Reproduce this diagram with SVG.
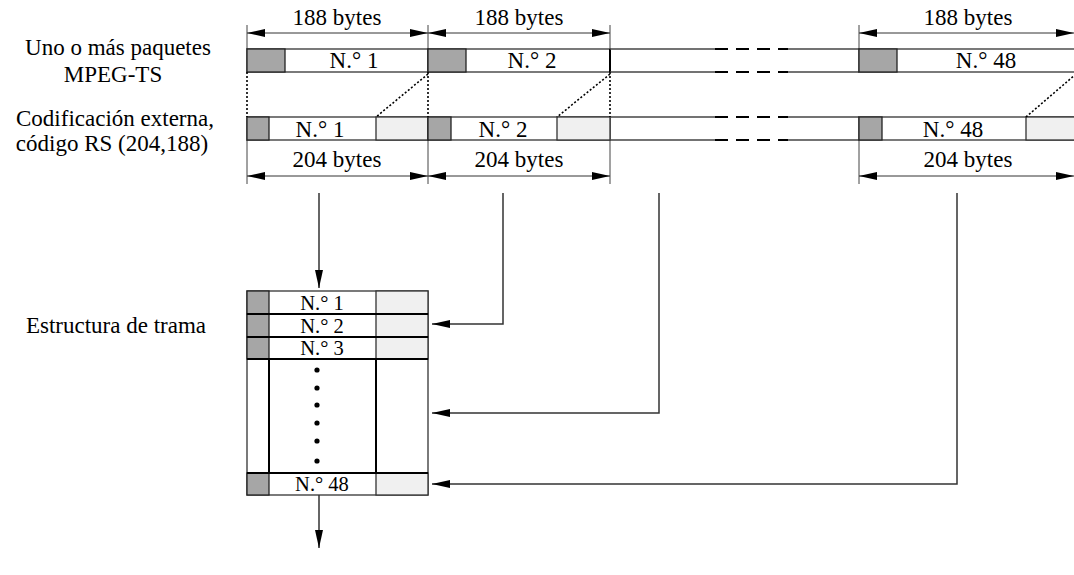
<svg xmlns="http://www.w3.org/2000/svg" width="1074" height="575" viewBox="0 0 1074 575">
<style>
text{font-family:"Liberation Serif","Times New Roman",serif;font-size:23px;fill:#000}
.m{text-anchor:middle}
.f{font-size:20.5px}
.w{fill:#fff;stroke:#333;stroke-width:1.3}
.g{fill:#a6a6a6;stroke:#222;stroke-width:1.3}
.l{fill:#f0f0f0;stroke:#333;stroke-width:1.3}
.ln{stroke:#444;stroke-width:1.3;fill:none}
.ds{stroke:#000;stroke-width:2;stroke-dasharray:13,8;fill:none}
.dot{stroke:#000;stroke-width:1.6;stroke-dasharray:2,2;fill:none}
.tk{stroke:#444;stroke-width:1}
.dim{stroke:#333;stroke-width:1;fill:none;marker-start:url(#as);marker-end:url(#ae)}
.c{stroke:#333;stroke-width:1.5;fill:none;marker-end:url(#ae)}
.fr{stroke:#000;stroke-width:2}
</style>
<defs>
<marker id="ae" viewBox="0 0 18 8" refX="18" refY="4" markerWidth="18" markerHeight="8" markerUnits="userSpaceOnUse" orient="auto"><path d="M0,0 L18,4 L0,8 Z" fill="#000"/></marker>
<marker id="as" viewBox="0 0 18 8" refX="0" refY="4" markerWidth="18" markerHeight="8" markerUnits="userSpaceOnUse" orient="auto"><path d="M18,0 L0,4 L18,8 Z" fill="#000"/></marker>
</defs>

<g id="labels">
<text class="m" x="118" y="55">Uno o más paquetes</text>
<text class="m" x="113" y="82">MPEG-TS</text>
<text class="m" x="115" y="126">Codificación externa,</text>
<text class="m" x="112" y="151">código RS (204,188)</text>
<text class="m" x="116" y="333">Estructura de trama</text>
</g>

<g id="dimensions">
<line class="tk" x1="247" y1="25" x2="247" y2="49"/>
<line class="tk" x1="428" y1="25" x2="428" y2="49"/>
<line class="tk" x1="610" y1="25" x2="610" y2="49"/>
<line class="tk" x1="859" y1="25" x2="859" y2="49"/>
<line class="tk" x1="247" y1="140" x2="247" y2="184"/>
<line class="tk" x1="428" y1="140" x2="428" y2="184"/>
<line class="tk" x1="610" y1="140" x2="610" y2="184"/>
<line class="tk" x1="859" y1="140" x2="859" y2="184"/>
<line class="dim" x1="247" y1="33" x2="428" y2="33"/>
<line class="dim" x1="428" y1="33" x2="610" y2="33"/>
<line class="dim" x1="859" y1="33" x2="1074" y2="33"/>
<line class="dim" x1="247" y1="176" x2="428" y2="176"/>
<line class="dim" x1="428" y1="176" x2="610" y2="176"/>
<line class="dim" x1="859" y1="176" x2="1074" y2="176"/>
<text class="m" x="337" y="25">188 bytes</text>
<text class="m" x="519" y="25">188 bytes</text>
<text class="m" x="968" y="25">188 bytes</text>
<text class="m" x="337" y="167">204 bytes</text>
<text class="m" x="519" y="167">204 bytes</text>
<text class="m" x="968" y="167">204 bytes</text>
</g>

<g id="ts-packets">
<rect class="w" x="247" y="49" width="181" height="23"/>
<rect class="g" x="247" y="49" width="38" height="23"/>
<text class="m" x="354" y="68">N.° 1</text>
<rect class="w" x="428" y="49" width="182" height="23"/>
<rect class="g" x="428" y="49" width="38" height="23"/>
<line x1="610" y1="49" x2="610" y2="72" stroke="#000" stroke-width="2"/>
<text class="m" x="532" y="68">N.° 2</text>
<line class="ln" x1="610" y1="49" x2="715" y2="49"/>
<line class="ln" x1="788" y1="49" x2="859" y2="49"/>
<line class="ln" x1="610" y1="72" x2="715" y2="72"/>
<line class="ln" x1="788" y1="72" x2="859" y2="72"/>
<line class="ds" x1="715" y1="49" x2="788" y2="49"/>
<line class="ds" x1="715" y1="72" x2="788" y2="72"/>
<rect class="w" x="859" y="49" width="220" height="23"/>
<rect class="g" x="859" y="49" width="38" height="23"/>
<text class="m" x="986" y="68">N.° 48</text>
</g>

<g id="rs-packets">
<rect class="w" x="247" y="117" width="181" height="23"/>
<rect class="g" x="247" y="117" width="22" height="23"/>
<rect class="l" x="376" y="117" width="52" height="23"/>
<text class="m" x="320" y="137">N.° 1</text>
<rect class="w" x="428" y="117" width="182" height="23"/>
<rect class="g" x="428" y="117" width="23" height="23"/>
<rect class="l" x="557" y="117" width="53" height="23"/>
<text class="m" x="503" y="137">N.° 2</text>
<line class="ln" x1="610" y1="117" x2="715" y2="117"/>
<line class="ln" x1="788" y1="117" x2="859" y2="117"/>
<line class="ln" x1="610" y1="140" x2="715" y2="140"/>
<line class="ln" x1="788" y1="140" x2="859" y2="140"/>
<line class="ds" x1="715" y1="117" x2="788" y2="117"/>
<line class="ds" x1="715" y1="140" x2="788" y2="140"/>
<rect class="w" x="859" y="117" width="220" height="23"/>
<rect class="g" x="859" y="117" width="23" height="23"/>
<rect class="l" x="1026" y="117" width="53" height="23"/>
<text class="m" x="953" y="137">N.° 48</text>
</g>

<g id="mapping">
<line class="dot" x1="247" y1="72" x2="247" y2="117"/>
<line class="dot" x1="428" y1="72" x2="428" y2="117"/>
<line class="dot" x1="428" y1="74" x2="376" y2="117"/>
<line class="dot" x1="610" y1="72" x2="610" y2="117"/>
<line class="dot" x1="610" y1="74" x2="557" y2="117"/>
<line class="dot" x1="1076" y1="74" x2="1026" y2="117"/>
</g>

<g id="frame">
<rect x="247" y="291" width="181" height="204" fill="#fff" stroke="#333" stroke-width="1.3"/>
<rect class="g" x="247" y="291" width="22" height="23"/>
<rect class="l" x="376" y="291" width="52" height="23"/>
<text class="m f" x="322" y="310">N.° 1</text>
<rect class="g" x="247" y="314" width="22" height="23"/>
<rect class="l" x="376" y="314" width="52" height="23"/>
<text class="m f" x="322" y="333">N.° 2</text>
<rect class="g" x="247" y="337" width="22" height="22"/>
<rect class="l" x="376" y="337" width="52" height="22"/>
<text class="m f" x="322" y="355">N.° 3</text>
<rect class="g" x="247" y="473" width="22" height="22"/>
<rect class="l" x="376" y="473" width="52" height="22"/>
<text class="m f" x="322" y="491">N.° 48</text>
<line class="fr" x1="247" y1="314" x2="428" y2="314"/>
<line class="fr" x1="247" y1="337" x2="428" y2="337"/>
<line class="fr" x1="247" y1="359" x2="428" y2="359"/>
<line class="fr" x1="247" y1="473" x2="428" y2="473"/>
<line class="fr" x1="269" y1="359" x2="269" y2="473"/>
<line class="fr" x1="376" y1="359" x2="376" y2="473"/>
<circle cx="317" cy="370" r="2.6"/>
<circle cx="317" cy="388" r="2.6"/>
<circle cx="317" cy="405" r="2.6"/>
<circle cx="317" cy="423" r="2.6"/>
<circle cx="317" cy="441" r="2.6"/>
<circle cx="317" cy="461" r="2.6"/>
</g>

<g id="connectors">
<line class="c" x1="319" y1="193" x2="319" y2="288" stroke="#000" stroke-width="2"/>
<polyline class="c" points="503,193 503,324 432,324"/>
<polyline class="c" points="659,193 659,413 432,413"/>
<polyline class="c" points="957,193 957,484 432,484"/>
<line class="c" x1="319" y1="495" x2="319" y2="548" stroke="#000" stroke-width="2"/>
</g>
</svg>
